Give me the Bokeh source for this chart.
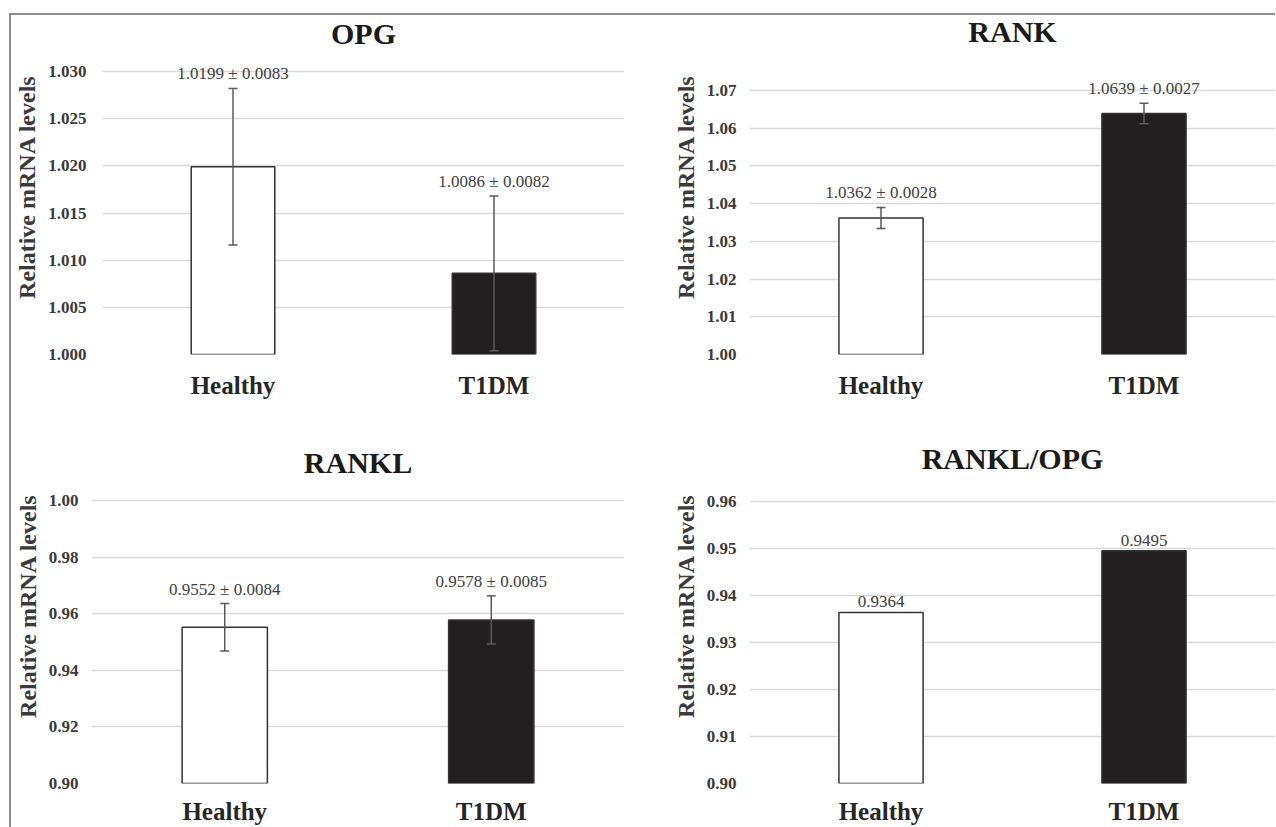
from bokeh.plotting import figure
from bokeh.layouts import column, row
from bokeh.models import (ColumnDataSource, Whisker, TeeHead, LabelSet, Label,
                          FixedTicker, PrintfTickFormatter, Range1d)
from bokeh.core.properties import value
from bokeh.embed import file_html
from bokeh.resources import INLINE

# ---- data ----
categories = ["Healthy", "T1DM"]

opg_mean = [1.0199, 1.0086]
opg_sd = [0.0083, 0.0082]
opg_ticks = [1.000, 1.005, 1.010, 1.015, 1.020, 1.025, 1.030]

rank_mean = [1.0362, 1.0639]
rank_sd = [0.0028, 0.0027]
rank_ticks = [1.00, 1.01, 1.02, 1.03, 1.04, 1.05, 1.06, 1.07]

rankl_mean = [0.9552, 0.9578]
rankl_sd = [0.0084, 0.0085]
rankl_ticks = [0.90, 0.92, 0.94, 0.96, 0.98, 1.00]

ratio_mean = [0.9364, 0.9495]
ratio_ticks = [0.90, 0.91, 0.92, 0.93, 0.94, 0.95, 0.96]

bar_fills = ["#ffffff", "#231f20"]

SERIF = "Liberation Serif"
MARGIN_TOP, MARGIN_LEFT, BORDER = 13, 9, 2
Y0 = MARGIN_TOP + BORDER   # page y of the figures' top edge
X0 = MARGIN_LEFT + BORDER  # page x of the figures' left edge


def make_panel(title, means, sds, ticks, fmt, width, height, borders, fig_top,
               top_px, bottom_px, title_px, tick_standoff, cat_standoff):
    """top_px / bottom_px: page pixel rows of the first and last tick,
    title_px: page pixel row of the title centre."""
    left, right, top, bottom = borders
    t0, tn = ticks[0], ticks[-1]
    frame_top = fig_top + top

    def y_at(px):
        return t0 + (tn - t0) * (bottom_px - px) / (bottom_px - top_px)

    p = figure(x_range=categories, y_range=Range1d(t0, y_at(frame_top)),
               width=width, height=height, output_backend="svg", toolbar_location=None,
               min_border_left=left, min_border_right=right,
               min_border_top=top, min_border_bottom=bottom)
    p.outline_line_color = None
    p.background_fill_color = "white"
    p.border_fill_color = "white"

    p.xgrid.grid_line_color = None
    p.ygrid.grid_line_color = "#d9d9d9"
    p.ygrid.grid_line_width = 1.5

    p.yaxis.ticker = FixedTicker(ticks=ticks)
    p.yaxis.formatter = PrintfTickFormatter(format=fmt)
    for ax in (p.xaxis, p.yaxis):
        ax.axis_line_color = None
        ax.major_tick_line_color = None
        ax.minor_tick_line_color = None
        ax.major_tick_out = 0
        ax.major_tick_in = 0
        ax.minor_tick_out = 0
        ax.minor_tick_in = 0
        ax.major_label_text_font = SERIF
        ax.major_label_text_font_style = "bold"
    p.yaxis.major_label_text_font_size = "17px"
    p.yaxis.major_label_text_color = "#3a3a3a"
    p.yaxis.major_label_standoff = tick_standoff
    p.yaxis.axis_label = "Relative mRNA levels"
    p.yaxis.axis_label_text_font = SERIF
    p.yaxis.axis_label_text_font_style = "bold"
    p.yaxis.axis_label_text_font_size = "24px"
    p.yaxis.axis_label_text_color = "#3a3a3a"
    p.yaxis.axis_label_standoff = 5

    p.xaxis.major_label_text_font_size = "25px"
    p.xaxis.major_label_text_color = "#262626"
    p.xaxis.major_label_standoff = cat_standoff

    data = dict(cat=categories, mean=means, fill=bar_fills)
    if sds is not None:
        data["upper"] = [m + s for m, s in zip(means, sds)]
        data["lower"] = [m - s for m, s in zip(means, sds)]
        data["label"] = [f"{m:.4f} \u00b1 {s:.4f}" for m, s in zip(means, sds)]
        data["ly"] = data["upper"]
    else:
        data["label"] = [f"{m:.4f}" for m in means]
        data["ly"] = means
    src = ColumnDataSource(data)

    p.vbar(x="cat", top="mean", bottom=t0, width=0.32, source=src,
           fill_color="fill", line_color="#333333", line_width=1.5)

    if sds is not None:
        w = Whisker(base="cat", upper="upper", lower="lower", source=src,
                    line_color="#5a5a5a", line_width=1.5, level="annotation",
                    upper_head=TeeHead(size=9, line_color="#5a5a5a", line_width=1.5),
                    lower_head=TeeHead(size=9, line_color="#5a5a5a", line_width=1.5))
        p.add_layout(w)

    labels = LabelSet(x="cat", y="ly", text="label", source=src, y_offset=5,
                      text_align="center", text_baseline="bottom",
                      text_font=value(SERIF), text_font_size="17px", text_color="#404040")
    p.add_layout(labels)

    p.add_layout(Label(x=1.0, y=y_at(title_px), text=title, text_align="center",
                       text_baseline="middle", text_font=SERIF, text_font_style="bold",
                       text_font_size="30px", text_color="#1a1a1a"))
    return p


H1, H2 = 409, 403
W1, W2 = 636 - X0, 639
row2_top = Y0 + H1
BB1 = Y0 + H1 - 354   # bottom border of the upper row
BB2 = row2_top + H2 - 783

p1 = make_panel("OPG", opg_mean, opg_sd, opg_ticks, "%.3f", W1, H1, (100 - X0, 12, 4, BB1), Y0,
                71, 354, 33, 16, 17)
p2 = make_panel("RANK", rank_mean, rank_sd, rank_ticks, "%.2f", W2, H1, (113, 0, 4, BB1), Y0,
                90, 354, 31, 13, 17)
p3 = make_panel("RANKL", rankl_mean, rankl_sd, rankl_ticks, "%.2f", W1, H2, (91 - X0, 12, 4, BB2),
                row2_top, 500, 783, 462, 13, 14)
p4 = make_panel("RANKL/OPG", ratio_mean, None, ratio_ticks, "%.2f", W2, H2, (113, 0, 4, BB2),
                row2_top, 501, 783, 458, 13, 14)

layout = column(row(p1, p2, spacing=0), row(p3, p4, spacing=0), spacing=0,
                margin=(MARGIN_TOP, 0, 0, MARGIN_LEFT),
                styles={"border-top": f"{BORDER}px solid #8c8c8c",
                        "border-left": f"{BORDER}px solid #8c8c8c"})

open("out.html", "w").write(file_html(layout, INLINE))
